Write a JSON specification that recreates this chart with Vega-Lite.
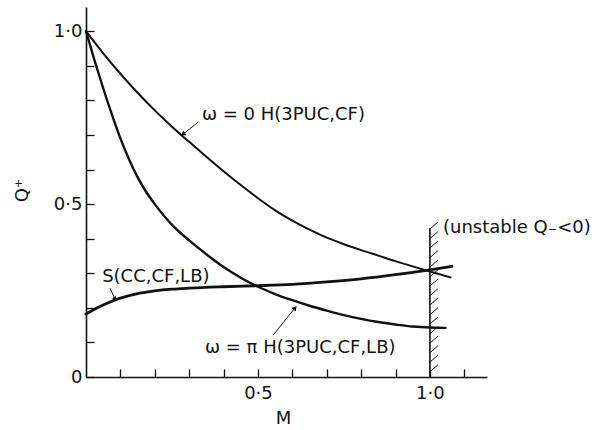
{
  "$schema": "https://vega.github.io/schema/vega-lite/v6.json",
  "autosize": "none",
  "width": 401,
  "height": 370,
  "padding": {"left": 86, "top": 7, "right": 107, "bottom": 53},
  "background": "white",
  "config": {
    "view": {"stroke": null},
    "font": "DejaVu Sans",
    "axis": {
      "grid": false,
      "domainColor": "#111",
      "domainWidth": 1.6,
      "tickColor": "#111",
      "tickWidth": 1.3,
      "tickRound": true,
      "tickSize": -8,
      "labelOverlap": false,
      "labelFont": "DejaVu Sans",
      "labelFontSize": 18,
      "labelColor": "#111",
      "titleFont": "DejaVu Sans",
      "titleFontSize": 18,
      "titleFontWeight": "normal",
      "titleColor": "#111"
    }
  },
  "datasets": {
    "curves": [
      {"series": "w0", "M": 0, "Q": 1.0}, {"series": "w0", "M": 0.05, "Q": 0.936}, {"series": "w0", "M": 0.1, "Q": 0.877},
      {"series": "w0", "M": 0.15, "Q": 0.822}, {"series": "w0", "M": 0.2, "Q": 0.771}, {"series": "w0", "M": 0.25, "Q": 0.724},
      {"series": "w0", "M": 0.3, "Q": 0.68}, {"series": "w0", "M": 0.35, "Q": 0.637}, {"series": "w0", "M": 0.4, "Q": 0.595},
      {"series": "w0", "M": 0.45, "Q": 0.555}, {"series": "w0", "M": 0.5, "Q": 0.517}, {"series": "w0", "M": 0.55, "Q": 0.482},
      {"series": "w0", "M": 0.6, "Q": 0.452}, {"series": "w0", "M": 0.65, "Q": 0.426}, {"series": "w0", "M": 0.7, "Q": 0.403},
      {"series": "w0", "M": 0.75, "Q": 0.384}, {"series": "w0", "M": 0.8, "Q": 0.367}, {"series": "w0", "M": 0.85, "Q": 0.351},
      {"series": "w0", "M": 0.9, "Q": 0.335}, {"series": "w0", "M": 0.95, "Q": 0.32}, {"series": "w0", "M": 1.0, "Q": 0.305},
      {"series": "w0", "M": 1.06, "Q": 0.288},
      {"series": "wpi", "M": 0, "Q": 1.0}, {"series": "wpi", "M": 0.025, "Q": 0.915}, {"series": "wpi", "M": 0.05, "Q": 0.835},
      {"series": "wpi", "M": 0.075, "Q": 0.76}, {"series": "wpi", "M": 0.1, "Q": 0.69}, {"series": "wpi", "M": 0.125, "Q": 0.63},
      {"series": "wpi", "M": 0.15, "Q": 0.578}, {"series": "wpi", "M": 0.175, "Q": 0.535}, {"series": "wpi", "M": 0.2, "Q": 0.5},
      {"series": "wpi", "M": 0.25, "Q": 0.44}, {"series": "wpi", "M": 0.3, "Q": 0.395}, {"series": "wpi", "M": 0.35, "Q": 0.355},
      {"series": "wpi", "M": 0.4, "Q": 0.318}, {"series": "wpi", "M": 0.45, "Q": 0.287}, {"series": "wpi", "M": 0.5, "Q": 0.261},
      {"series": "wpi", "M": 0.55, "Q": 0.24}, {"series": "wpi", "M": 0.6, "Q": 0.222}, {"series": "wpi", "M": 0.65, "Q": 0.206},
      {"series": "wpi", "M": 0.7, "Q": 0.192}, {"series": "wpi", "M": 0.75, "Q": 0.179}, {"series": "wpi", "M": 0.8, "Q": 0.168},
      {"series": "wpi", "M": 0.85, "Q": 0.159}, {"series": "wpi", "M": 0.9, "Q": 0.152}, {"series": "wpi", "M": 0.95, "Q": 0.146},
      {"series": "wpi", "M": 1.0, "Q": 0.143}, {"series": "wpi", "M": 1.045, "Q": 0.142},
      {"series": "S", "M": 0, "Q": 0.182}, {"series": "S", "M": 0.025, "Q": 0.196}, {"series": "S", "M": 0.05, "Q": 0.208},
      {"series": "S", "M": 0.075, "Q": 0.219}, {"series": "S", "M": 0.1, "Q": 0.228}, {"series": "S", "M": 0.15, "Q": 0.241},
      {"series": "S", "M": 0.2, "Q": 0.249}, {"series": "S", "M": 0.25, "Q": 0.254}, {"series": "S", "M": 0.3, "Q": 0.257},
      {"series": "S", "M": 0.4, "Q": 0.261}, {"series": "S", "M": 0.5, "Q": 0.264}, {"series": "S", "M": 0.6, "Q": 0.268},
      {"series": "S", "M": 0.7, "Q": 0.275}, {"series": "S", "M": 0.8, "Q": 0.284}, {"series": "S", "M": 0.9, "Q": 0.296},
      {"series": "S", "M": 1.0, "Q": 0.31}, {"series": "S", "M": 1.064, "Q": 0.32}
    ],
    "wall": [{"M": 1.0, "Q": 0, "Q2": 0.43}],
    "hatches": [
      {"M": 1.0, "Q": 0.015}, {"M": 1.0, "Q": 0.043}, {"M": 1.0, "Q": 0.07}, {"M": 1.0, "Q": 0.098},
      {"M": 1.0, "Q": 0.125}, {"M": 1.0, "Q": 0.153}, {"M": 1.0, "Q": 0.18}, {"M": 1.0, "Q": 0.208},
      {"M": 1.0, "Q": 0.235}, {"M": 1.0, "Q": 0.263}, {"M": 1.0, "Q": 0.29}, {"M": 1.0, "Q": 0.318},
      {"M": 1.0, "Q": 0.345}, {"M": 1.0, "Q": 0.373}, {"M": 1.0, "Q": 0.4}, {"M": 1.0, "Q": 0.428}
    ],
    "leaders": [
      {"name": "w0", "M": 0.326, "Q": 0.737, "M2": 0.282, "Q2": 0.702},
      {"name": "wpi", "M": 0.544, "Q": 0.121, "M2": 0.608, "Q2": 0.2},
      {"name": "S", "M": 0.07, "Q": 0.257, "M2": 0.084, "Q2": 0.226}
    ],
    "labels": [
      {"M": 0.337, "Q": 0.757, "text": "ω = 0 H(3PUC,CF)"},
      {"M": 0.047, "Q": 0.289, "text": "S(CC,CF,LB)"},
      {"M": 0.346, "Q": 0.084, "text": "ω = π  H(3PUC,CF,LB)"},
      {"M": 1.038, "Q": 0.43, "text": "(unstable Q₋<0)"}
    ]
  },
  "layer": [
    {
      "data": {"name": "curves"},
      "mark": {"type": "line", "interpolate": "monotone", "color": "#111", "strokeCap": "round"},
      "encoding": {
        "x": {
          "field": "M", "type": "quantitative",
          "scale": {"domain": [0, 1.166], "nice": false, "zero": false},
          "axis": {
            "title": "M",
            "values": [0.1, 0.2, 0.3, 0.4, 0.5, 0.6, 0.7, 0.8, 0.9, 1.0, 1.1],
            "labelExpr": "datum.value == 0.5 ? '0·5' : (datum.value == 1 ? '1·0' : '')",
            "labelPadding": 15,
            "titleX": 197, "titleY": 41, "titleBaseline": "middle", "titleAlign": "center"
          }
        },
        "y": {
          "field": "Q", "type": "quantitative",
          "scale": {"domain": [0, 1.07], "nice": false, "zero": false},
          "axis": {
            "title": "Q⁺",
            "tickCount": 11,
            "labelExpr": "abs(datum.value) < 0.001 ? '0' : (abs(datum.value - 0.5) < 0.001 ? '0·5' : (abs(datum.value - 1) < 0.001 ? '1·0' : ''))",
            "labelPadding": 12,
            "titleX": -64, "titleY": 183, "titleBaseline": "middle", "titleAlign": "center", "titleAngle": -90
          }
        },
        "detail": {"field": "series", "type": "nominal"},
        "strokeWidth": {
          "field": "series", "type": "nominal",
          "scale": {"domain": ["w0", "wpi", "S"], "range": [2, 2.8, 2.6]},
          "legend": null
        }
      }
    },
    {
      "data": {"name": "wall"},
      "mark": {"type": "rule", "color": "#111", "strokeWidth": 1.6},
      "encoding": {
        "x": {"field": "M", "type": "quantitative"},
        "y": {"field": "Q", "type": "quantitative"},
        "y2": {"field": "Q2"}
      }
    },
    {
      "data": {"name": "hatches"},
      "mark": {"type": "point", "shape": "M0,0L1,-0.875", "size": 256, "filled": false, "stroke": "#111", "strokeWidth": 1, "opacity": 1},
      "encoding": {
        "x": {"field": "M", "type": "quantitative"},
        "y": {"field": "Q", "type": "quantitative"}
      }
    },
    {
      "data": {"name": "leaders"},
      "mark": {"type": "rule", "color": "#111", "strokeWidth": 1},
      "encoding": {
        "x": {"field": "M", "type": "quantitative"},
        "y": {"field": "Q", "type": "quantitative"},
        "x2": {"field": "M2"},
        "y2": {"field": "Q2"}
      }
    },
    {
      "data": {"name": "leaders"},
      "transform": [{"filter": "datum.name == 'w0'"}],
      "mark": {"type": "point", "shape": "triangle-up", "size": 30, "filled": true, "color": "#111", "opacity": 1, "angle": 236},
      "encoding": {
        "x": {"field": "M2", "type": "quantitative"},
        "y": {"field": "Q2", "type": "quantitative"}
      }
    },
    {
      "data": {"name": "leaders"},
      "transform": [{"filter": "datum.name == 'wpi'"}],
      "mark": {"type": "point", "shape": "triangle-up", "size": 30, "filled": true, "color": "#111", "opacity": 1, "angle": 39},
      "encoding": {
        "x": {"field": "M2", "type": "quantitative"},
        "y": {"field": "Q2", "type": "quantitative"}
      }
    },
    {
      "data": {"name": "leaders"},
      "transform": [{"filter": "datum.name == 'S'"}],
      "mark": {"type": "point", "shape": "triangle-up", "size": 20, "filled": true, "color": "#111", "opacity": 1, "angle": 153},
      "encoding": {
        "x": {"field": "M2", "type": "quantitative"},
        "y": {"field": "Q2", "type": "quantitative"}
      }
    },
    {
      "data": {"name": "labels"},
      "mark": {"type": "text", "align": "left", "baseline": "middle", "font": "DejaVu Sans", "fontSize": 18, "color": "#111"},
      "encoding": {
        "x": {"field": "M", "type": "quantitative"},
        "y": {"field": "Q", "type": "quantitative"},
        "text": {"field": "text", "type": "nominal"}
      }
    }
  ]
}
